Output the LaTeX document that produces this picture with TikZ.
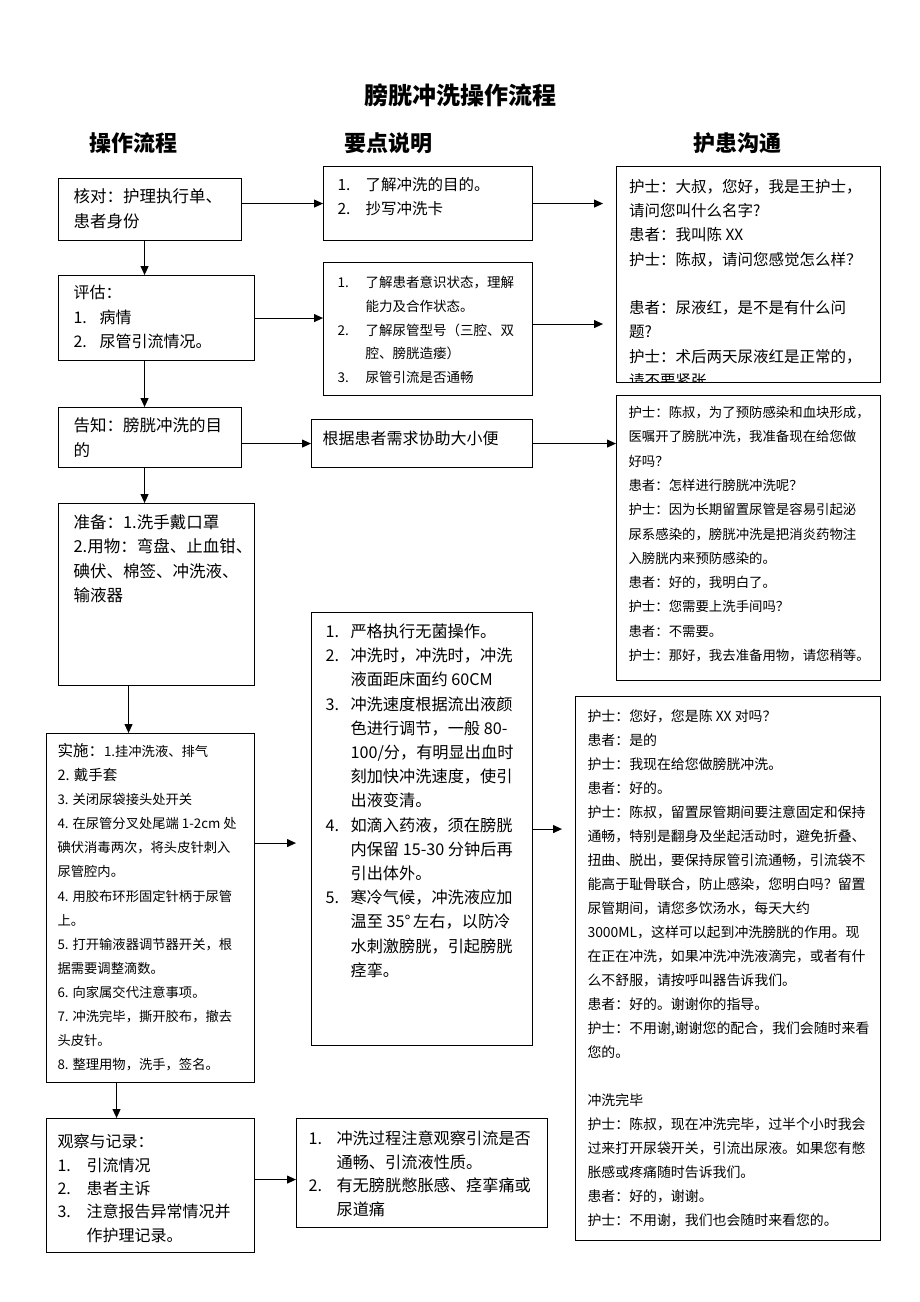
\documentclass[tikz,border=0pt]{standalone}
\usepackage{fontspec}
\setmainfont{Noto Sans CJK SC}
\usetikzlibrary{arrows.meta}

\newcommand{\cell}[6]{\vbox to #2pt{\vskip#4pt\hbox to #1pt{\hskip#3pt#5\begin{tabular}[t]{@{}l@{}}#6\end{tabular}\hss}\vss}}
\newcommand{\itemno}[2][28]{\makebox[#1pt][l]{#2}}
\newcommand{\setsize}[2]{\fontsize{#1}{#2}\selectfont}

\tikzset{
	stepbox/.style={draw, line width=1.1pt, anchor=north west, inner sep=0pt},
	flow/.style={-{Triangle[length=9pt,width=8pt]}, line width=1.1pt},
	heading/.style={font=\setsize{22}{26}\bfseries},
}

\begin{document}
\begin{tikzpicture}[x=1pt, y=-1pt]
	\useasboundingbox (0,0) rectangle (920,1302);
	\node(Title)		at (460,95)		{\setsize{24}{28}\bfseries 膀胱冲洗操作流程};
	\node(HeadSteps)	[heading] at (133,143)	{操作流程};
	\node(HeadNotes)	[heading] at (388,143)	{要点说明};
	\node(HeadTalk)		[heading] at (737,143)	{护患沟通};

	\node(Check)		[stepbox] at (58,178)	{\cell{183}{62}{15}{6}{\setsize{16.5}{25}}{核对：护理执行单、\\患者身份}};
	\node(Assess)		[stepbox] at (58,275)	{\cell{196}{85}{15}{6}{\setsize{16}{24.5}}{评估：\\\itemno[26]{1.}病情\\\itemno[26]{2.}尿管引流情况。}};
	\node(Inform)		[stepbox] at (58,407)	{\cell{183}{60}{15}{6}{\setsize{16.5}{25}}{告知：膀胱冲洗的目\\的}};
	\node(Prepare)		[stepbox] at (58,503)	{\cell{196}{182}{15}{8}{\setsize{16.5}{24.3}}{准备：1.洗手戴口罩\\2.用物：弯盘、止血钳、\\碘伏、棉签、冲洗液、\\输液器}};
	\node(Perform)		[stepbox] at (46,733)	{\cell{208}{349}{11}{6}{\setsize{13.3}{24.1}}{{\setsize{15.5}{24.1}实施：}1.挂冲洗液、排气\\{\setsize{14.5}{24.1}2. 戴手套}\\3. 关闭尿袋接头处开关\\4. 在尿管分叉处尾端 1-2cm 处\\碘伏消毒两次，将头皮针刺入\\尿管腔内。\\4. 用胶布环形固定针柄于尿管\\上。\\5. 打开输液器调节器开关，根\\据需要调整滴数。\\6. 向家属交代注意事项。\\7. 冲洗完毕，撕开胶布，撤去\\头皮针。\\8. 整理用物，洗手，签名。}};
	\node(Observe)		[stepbox] at (46,1118)	{\cell{208}{134}{11}{13}{\setsize{16}{23.3}}{观察与记录：\\\itemno[29]{1.}引流情况\\\itemno[29]{2.}患者主诉\\\itemno[29]{3.}注意报告异常情况并\\\itemno[29]{}作护理记录。}};

	\node(NoteCheck)	[stepbox] at (323,166)	{\cell{209}{74}{14}{7}{\setsize{15.5}{24}}{\itemno{1.}了解冲洗的目的。\\\itemno{2.}抄写冲洗卡}};
	\node(NoteAssess)	[stepbox] at (323,262)	{\cell{209}{133}{14}{8.5}{\setsize{13.5}{23.7}}{\itemno{1.}了解患者意识状态，理解\\\itemno{}能力及合作状态。\\\itemno{2.}了解尿管型号（三腔、双\\\itemno{}腔、膀胱造瘘）\\\itemno{3.}尿管引流是否通畅}};
	\node(NoteInform)	[stepbox] at (311,419)	{\cell{221}{48}{11}{7.5}{\setsize{16}{25}}{根据患者需求协助大小便}};
	\node(NotePerform)	[stepbox] at (311,612)	{\cell{221}{433}{14}{8}{\setsize{16.2}{24.2}}{\itemno[25]{1.}严格执行无菌操作。\\\itemno[25]{2.}冲洗时，冲洗时，冲洗\\\itemno[25]{}液面距床面约 60CM\\\itemno[25]{3.}冲洗速度根据流出液颜\\\itemno[25]{}色进行调节，一般 80-\\\itemno[25]{}100/分，有明显出血时\\\itemno[25]{}刻加快冲洗速度，使引\\\itemno[25]{}出液变清。\\\itemno[25]{4.}如滴入药液，须在膀胱\\\itemno[25]{}内保留 15-30 分钟后再\\\itemno[25]{}引出体外。\\\itemno[25]{5.}寒冷气候，冲洗液应加\\\itemno[25]{}温至 35°\,左右，以防冷\\\itemno[25]{}水刺激膀胱，引起膀胱\\\itemno[25]{}痉挛。}};
	\node(NoteObserve)	[stepbox] at (296,1118)	{\cell{251}{109}{12}{9.7}{\setsize{16.2}{23.6}}{\itemno{1.}冲洗过程注意观察引流是否\\\itemno{}通畅、引流液性质。\\\itemno{2.}有无膀胱憋胀感、痉挛痛或\\\itemno{}尿道痛}};

	\node(TalkCheck)	[stepbox, minimum width=264pt, minimum height=216pt, path picture={\node[anchor=north west, inner sep=0pt] at (path picture bounding box.north west) {\cell{264}{216}{12}{8}{\setsize{15.5}{24.3}}{护士：大叔，您好，我是王护士，\\请问您叫什么名字?\\患者：我叫陈 XX\\护士：陈叔，请问您感觉怎么样？\\ \\患者：尿液红，是不是有什么问\\题?\\护士：术后两天尿液红是正常的，\\请不要紧张}};}] at (616,166) {};
	\node(TalkInform)	[stepbox] at (616,395)	{\cell{264}{285}{12}{5}{\setsize{13.4}{24.3}}{护士：陈叔，为了预防感染和血块形成，\\医嘱开了膀胱冲洗，我准备现在给您做\\好吗？\\患者：怎样进行膀胱冲洗呢？\\护士：因为长期留置尿管是容易引起泌\\尿系感染的，膀胱冲洗是把消炎药物注\\入膀胱内来预防感染的。\\患者：好的，我明白了。\\护士：您需要上洗手间吗？\\患者：不需要。\\护士：那好，我去准备用物，请您稍等。}};
	\node(TalkPerform)	[stepbox] at (575,696)	{\cell{305}{544}{12}{8.5}{\setsize{13.9}{24}}{护士：您好，您是陈 XX 对吗？\\患者：是的\\护士：我现在给您做膀胱冲洗。\\患者：好的。\\护士：陈叔，留置尿管期间要注意固定和保持\\通畅，特别是翻身及坐起活动时，避免折叠、\\扭曲、脱出，要保持尿管引流通畅，引流袋不\\能高于耻骨联合，防止感染，您明白吗？留置\\尿管期间，请您多饮汤水，每天大约\\3000ML，这样可以起到冲洗膀胱的作用。现\\在正在冲洗，如果冲洗冲洗液滴完，或者有什\\么不舒服，请按呼叫器告诉我们。\\患者：好的。谢谢你的指导。\\护士：不用谢,谢谢您的配合，我们会随时来看\\您的。\\ \\冲洗完毕\\护士：陈叔，现在冲洗完毕，过半个小时我会\\过来打开尿袋开关，引流出尿液。如果您有憋\\胀感或疼痛随时告诉我们。\\患者：好的，谢谢。\\护士：不用谢，我们也会随时来看您的。}};

	\draw[flow]	([xshift=-5.5]Check.south)	-- ([xshift=-5.5]Check.south |- Assess.north);
	\draw[flow]	([xshift=-12]Assess.south)	-- ([xshift=-12]Assess.south |- Inform.north);
	\draw[flow]	([xshift=-5.5]Inform.south)	-- ([xshift=-5.5]Inform.south |- Prepare.north);
	\draw[flow]	([xshift=-28]Prepare.south)	-- ([xshift=-28]Prepare.south |- Perform.north);
	\draw[flow]	([xshift=-34]Perform.south)	-- ([xshift=-34]Perform.south |- Observe.north);

	\draw[flow]	(NoteCheck.west -| Check.east)	-- (NoteCheck.west);
	\draw[flow]	(Assess.east)	-- (Assess.east -| NoteAssess.west);
	\draw[flow]	(NoteInform.west -| Inform.east)	-- (NoteInform.west);
	\draw[flow, shorten >=15pt]	([yshift=65]Perform.east)	-- ([yshift=65]Perform.east -| NotePerform.west);
	\draw[flow]	([yshift=6]Observe.east)	-- ([yshift=6]Observe.east -| NoteObserve.west);

	\draw[flow, shorten >=13pt]	(NoteCheck.east)	-- (NoteCheck.east -| TalkCheck.west);
	\draw[flow, shorten >=13pt]	([yshift=5]NoteAssess.east)	-- ([yshift=5]NoteAssess.east -| TalkCheck.west);
	\draw[flow]	(NoteInform.east)	-- (NoteInform.east -| TalkInform.west);
	\draw[flow, shorten >=13pt]	(NotePerform.east)	-- (NotePerform.east -| TalkPerform.west);
\end{tikzpicture}
\end{document}
